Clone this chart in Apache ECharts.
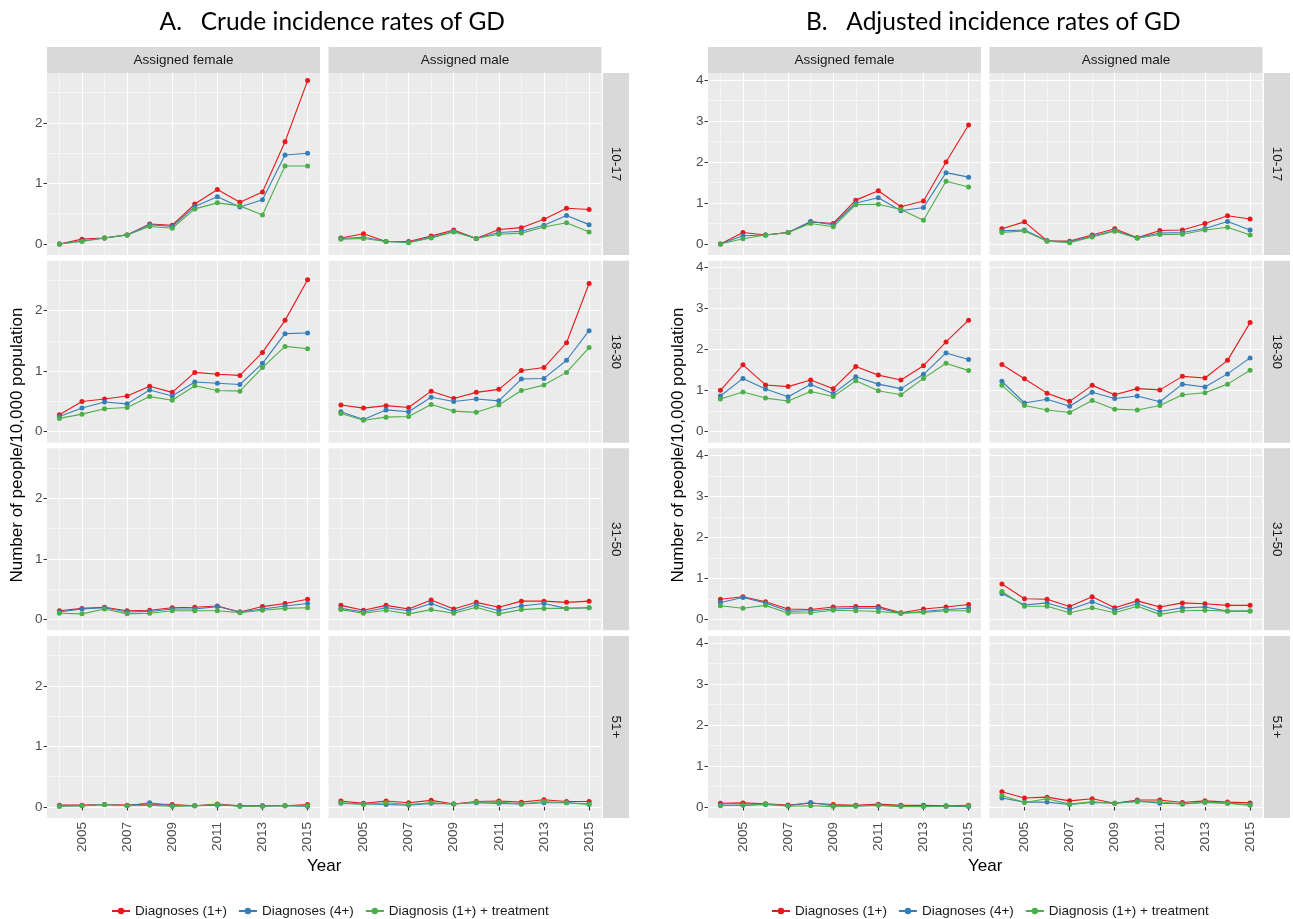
<!DOCTYPE html>
<html><head><meta charset="utf-8">
<script src="https://cdn.jsdelivr.net/npm/echarts@6/dist/echarts.min.js"></script>
<style>html,body{margin:0;padding:0;background:#fff}#c{width:1293px;height:919px}</style>
</head><body><div id="c"></div>
<script>
// ---------------- data ----------------
const years = [2004, 2005, 2006, 2007, 2008, 2009, 2010, 2011, 2012, 2013, 2014, 2015];
const xTickYears = [2005, 2007, 2009, 2011, 2013, 2015];
const xMinorYears = [2004, 2006, 2008, 2010, 2012, 2014];
const seriesNames = ['Diagnoses (1+)', 'Diagnoses (4+)', 'Diagnosis (1+) + treatment'];
const sexLabels = ['Assigned female', 'Assigned male'];
const ageLabels = ['10-17', '18-30', '31-50', '51+'];
const crudeYTicks = [0, 1, 2];
const crudeYMinor = [0.5, 1.5, 2.5];
const adjYTicks = [0, 1, 2, 3, 4];
const adjYMinor = [0.5, 1.5, 2.5, 3.5];

// A. Crude incidence rates
const c_f_1017_d1 = [0, 0.08, 0.10, 0.15, 0.33, 0.31, 0.66, 0.90, 0.69, 0.86, 1.69, 2.70];
const c_f_1017_d4 = [0, 0.05, 0.10, 0.15, 0.32, 0.29, 0.62, 0.78, 0.61, 0.73, 1.47, 1.50];
const c_f_1017_tx = [0, 0.04, 0.10, 0.15, 0.29, 0.26, 0.58, 0.68, 0.63, 0.48, 1.29, 1.29];
const c_m_1017_d1 = [0.10, 0.17, 0.04, 0.04, 0.13, 0.23, 0.09, 0.24, 0.27, 0.41, 0.59, 0.57];
const c_m_1017_d4 = [0.09, 0.11, 0.04, 0.03, 0.11, 0.21, 0.09, 0.19, 0.21, 0.31, 0.47, 0.32];
const c_m_1017_tx = [0.08, 0.09, 0.04, 0.02, 0.10, 0.20, 0.09, 0.16, 0.18, 0.28, 0.35, 0.20];

const c_f_1830_d1 = [0.28, 0.50, 0.54, 0.59, 0.75, 0.65, 0.98, 0.95, 0.93, 1.31, 1.84, 2.51];
const c_f_1830_d4 = [0.25, 0.39, 0.49, 0.46, 0.69, 0.59, 0.82, 0.80, 0.78, 1.13, 1.62, 1.63];
const c_f_1830_tx = [0.22, 0.29, 0.38, 0.40, 0.58, 0.52, 0.76, 0.68, 0.67, 1.06, 1.41, 1.37];
const c_m_1830_d1 = [0.44, 0.39, 0.43, 0.40, 0.67, 0.55, 0.65, 0.70, 1.01, 1.06, 1.47, 2.45];
const c_m_1830_d4 = [0.33, 0.20, 0.36, 0.33, 0.57, 0.50, 0.54, 0.51, 0.87, 0.88, 1.18, 1.67];
const c_m_1830_tx = [0.30, 0.19, 0.24, 0.25, 0.45, 0.34, 0.32, 0.44, 0.68, 0.77, 0.98, 1.39];

const c_f_3150_d1 = [0.14, 0.18, 0.20, 0.14, 0.15, 0.19, 0.20, 0.22, 0.12, 0.21, 0.26, 0.33];
const c_f_3150_d4 = [0.12, 0.17, 0.19, 0.12, 0.13, 0.17, 0.17, 0.21, 0.12, 0.17, 0.22, 0.26];
const c_f_3150_tx = [0.10, 0.09, 0.17, 0.09, 0.10, 0.14, 0.14, 0.14, 0.11, 0.15, 0.18, 0.19];
const c_m_3150_d1 = [0.23, 0.15, 0.23, 0.17, 0.32, 0.17, 0.28, 0.20, 0.30, 0.30, 0.28, 0.30];
const c_m_3150_d4 = [0.18, 0.12, 0.19, 0.14, 0.26, 0.13, 0.24, 0.14, 0.22, 0.26, 0.18, 0.19];
const c_m_3150_tx = [0.16, 0.10, 0.15, 0.09, 0.16, 0.10, 0.20, 0.09, 0.16, 0.18, 0.18, 0.19];

const c_f_51_d1 = [0.03, 0.03, 0.04, 0.03, 0.05, 0.04, 0.02, 0.05, 0.02, 0.02, 0.02, 0.04];
const c_f_51_d4 = [0.02, 0.02, 0.04, 0.02, 0.07, 0.02, 0.02, 0.03, 0.02, 0.02, 0.02, 0.01];
const c_f_51_tx = [0.01, 0.02, 0.04, 0.02, 0.03, 0.01, 0.02, 0.04, 0.01, 0.01, 0.02, 0.02];
const c_m_51_d1 = [0.10, 0.06, 0.10, 0.07, 0.11, 0.05, 0.09, 0.10, 0.08, 0.12, 0.09, 0.09];
const c_m_51_d4 = [0.06, 0.05, 0.04, 0.03, 0.06, 0.05, 0.07, 0.06, 0.05, 0.07, 0.07, 0.05];
const c_m_51_tx = [0.07, 0.04, 0.07, 0.04, 0.07, 0.05, 0.08, 0.08, 0.05, 0.09, 0.07, 0.04];

// B. Adjusted incidence rates
const a_f_1017_d1 = [0, 0.28, 0.22, 0.28, 0.54, 0.50, 1.07, 1.30, 0.91, 1.05, 2.00, 2.90];
const a_f_1017_d4 = [0, 0.20, 0.22, 0.28, 0.55, 0.47, 1.00, 1.13, 0.81, 0.89, 1.74, 1.63];
const a_f_1017_tx = [0, 0.13, 0.22, 0.28, 0.50, 0.42, 0.96, 0.97, 0.84, 0.58, 1.53, 1.39];
const a_m_1017_d1 = [0.37, 0.54, 0.08, 0.07, 0.22, 0.37, 0.15, 0.33, 0.34, 0.50, 0.69, 0.61];
const a_m_1017_d4 = [0.32, 0.34, 0.08, 0.05, 0.19, 0.33, 0.15, 0.27, 0.28, 0.38, 0.55, 0.34];
const a_m_1017_tx = [0.28, 0.32, 0.07, 0.03, 0.17, 0.31, 0.14, 0.23, 0.24, 0.34, 0.41, 0.22];

const a_f_1830_d1 = [1.01, 1.63, 1.14, 1.10, 1.26, 1.05, 1.59, 1.38, 1.26, 1.61, 2.19, 2.72];
const a_f_1830_d4 = [0.87, 1.30, 1.04, 0.85, 1.15, 0.93, 1.34, 1.16, 1.05, 1.40, 1.92, 1.76];
const a_f_1830_tx = [0.80, 0.97, 0.82, 0.75, 0.98, 0.86, 1.24, 1.00, 0.90, 1.30, 1.67, 1.49];
const a_m_1830_d1 = [1.64, 1.29, 0.94, 0.74, 1.13, 0.90, 1.05, 1.02, 1.35, 1.31, 1.74, 2.66];
const a_m_1830_d4 = [1.23, 0.70, 0.79, 0.62, 0.96, 0.81, 0.87, 0.73, 1.16, 1.09, 1.41, 1.80];
const a_m_1830_tx = [1.13, 0.64, 0.53, 0.47, 0.76, 0.55, 0.53, 0.64, 0.90, 0.95, 1.16, 1.50];

const a_f_3150_d1 = [0.49, 0.55, 0.43, 0.25, 0.24, 0.30, 0.31, 0.31, 0.16, 0.25, 0.30, 0.36];
const a_f_3150_d4 = [0.41, 0.53, 0.40, 0.20, 0.21, 0.25, 0.27, 0.27, 0.15, 0.19, 0.24, 0.27];
const a_f_3150_tx = [0.33, 0.27, 0.34, 0.15, 0.16, 0.22, 0.21, 0.19, 0.15, 0.17, 0.21, 0.21];
const a_m_3150_d1 = [0.86, 0.50, 0.49, 0.31, 0.55, 0.28, 0.45, 0.30, 0.40, 0.38, 0.34, 0.34];
const a_m_3150_d4 = [0.63, 0.35, 0.40, 0.24, 0.43, 0.22, 0.38, 0.19, 0.28, 0.30, 0.20, 0.20];
const a_m_3150_tx = [0.68, 0.32, 0.32, 0.16, 0.28, 0.16, 0.32, 0.12, 0.21, 0.22, 0.20, 0.20];

const a_f_51_d1 = [0.09, 0.10, 0.08, 0.05, 0.09, 0.06, 0.04, 0.07, 0.04, 0.04, 0.03, 0.04];
const a_f_51_d4 = [0.05, 0.04, 0.06, 0.03, 0.11, 0.03, 0.03, 0.05, 0.03, 0.02, 0.02, 0.01];
const a_f_51_tx = [0.03, 0.05, 0.07, 0.02, 0.03, 0.01, 0.02, 0.04, 0.01, 0.01, 0.02, 0.03];
const a_m_51_d1 = [0.37, 0.22, 0.24, 0.15, 0.20, 0.09, 0.17, 0.17, 0.11, 0.15, 0.12, 0.10];
const a_m_51_d4 = [0.22, 0.12, 0.12, 0.06, 0.11, 0.09, 0.15, 0.09, 0.08, 0.11, 0.09, 0.06];
const a_m_51_tx = [0.28, 0.11, 0.20, 0.07, 0.13, 0.09, 0.13, 0.13, 0.07, 0.12, 0.09, 0.04];

// facet tables: [row][col] -> [d1, d4, tx]
const crudeFacets = [
  [[c_f_1017_d1, c_f_1017_d4, c_f_1017_tx], [c_m_1017_d1, c_m_1017_d4, c_m_1017_tx]],
  [[c_f_1830_d1, c_f_1830_d4, c_f_1830_tx], [c_m_1830_d1, c_m_1830_d4, c_m_1830_tx]],
  [[c_f_3150_d1, c_f_3150_d4, c_f_3150_tx], [c_m_3150_d1, c_m_3150_d4, c_m_3150_tx]],
  [[c_f_51_d1, c_f_51_d4, c_f_51_tx], [c_m_51_d1, c_m_51_d4, c_m_51_tx]]
];
const adjFacets = [
  [[a_f_1017_d1, a_f_1017_d4, a_f_1017_tx], [a_m_1017_d1, a_m_1017_d4, a_m_1017_tx]],
  [[a_f_1830_d1, a_f_1830_d4, a_f_1830_tx], [a_m_1830_d1, a_m_1830_d4, a_m_1830_tx]],
  [[a_f_3150_d1, a_f_3150_d4, a_f_3150_tx], [a_m_3150_d1, a_m_3150_d4, a_m_3150_tx]],
  [[a_f_51_d1, a_f_51_d4, a_f_51_tx], [a_m_51_d1, a_m_51_d4, a_m_51_tx]]
];

// ---------------- layout & style ----------------
const colors = ['#e41a1c', '#377eb8', '#4daf4a'];
const FONT = 'Liberation Sans';
const FS = 13.5;
const colW = 273, colStep = 281.5, rowH = 182, stripH = 26;
const rowTops = [73, 260.7, 448.3, 636];
const panels = [
  { title: 'A.   Crude incidence rates of GD', left0: 47, yMin: -0.182, yMax: 2.826,
    yTicks: crudeYTicks, yMinor: crudeYMinor, facets: crudeFacets, legendLeft: 106 },
  { title: 'B.   Adjusted incidence rates of GD', left0: 708, yMin: -0.268, yMax: 4.17,
    yTicks: adjYTicks, yMinor: adjYMinor, facets: adjFacets, legendLeft: 766 }
];

const grid = [], xAxis = [], yAxis = [], series = [], graphic = [], legend = [];

panels.forEach((P, p) => {
  const panelsLeft = P.left0, panelsRight = P.left0 + colStep + colW;
  const centerX = (panelsLeft + panelsRight) / 2;
  graphic.push({ type: 'text', x: centerX + 8, y: 22, style: { text: P.title, fill: '#000',
    font: '24.5px Lato', textAlign: 'center', textVerticalAlign: 'middle' } });
  // column strips
  sexLabels.forEach((s, c) => {
    const x = P.left0 + c * colStep;
    graphic.push({ type: 'rect', shape: { x: x, y: 47, width: colW, height: stripH }, style: { fill: '#d9d9d9' } });
    graphic.push({ type: 'text', x: x + colW / 2, y: 47 + stripH / 2, style: { text: s, fill: '#1a1a1a',
      font: FS + 'px ' + FONT, textAlign: 'center', textVerticalAlign: 'middle' } });
  });
  // row strips
  ageLabels.forEach((a, r) => {
    const x = panelsRight + 1.5;
    graphic.push({ type: 'rect', shape: { x: x, y: rowTops[r], width: stripH, height: rowH }, style: { fill: '#d9d9d9' } });
    graphic.push({ type: 'text', x: x + stripH / 2, y: rowTops[r] + rowH / 2, rotation: -Math.PI / 2,
      style: { text: a, fill: '#1a1a1a', font: FS + 'px ' + FONT, textAlign: 'center', textVerticalAlign: 'middle' } });
  });
  // axis titles
  graphic.push({ type: 'text', x: P.left0 - 30, y: 445, rotation: Math.PI / 2,
    style: { text: 'Number of people/10,000 population', fill: '#000', font: '17px ' + FONT,
      textAlign: 'center', textVerticalAlign: 'middle' } });
  graphic.push({ type: 'text', x: centerX, y: 866, style: { text: 'Year', fill: '#000', font: '17px ' + FONT,
    textAlign: 'center', textVerticalAlign: 'middle' } });

  legend.push({ data: seriesNames, left: P.legendLeft, top: 899, itemWidth: 18, itemHeight: 8, itemGap: 11,
    textStyle: { fontFamily: FONT, fontSize: FS, color: '#1a1a1a' } });

  for (let r = 0; r < 4; r++) {
    for (let c = 0; c < 2; c++) {
      const gi = grid.length;
      grid.push({ left: P.left0 + c * colStep, top: rowTops[r], width: colW, height: rowH,
        show: true, backgroundColor: '#ebebeb', borderWidth: 0, containLabel: false, outerBoundsMode: 'none' });
      xAxis.push({ gridIndex: gi, type: 'value', min: 2003.45, max: 2015.55, position: 'bottom',
        axisLine: { show: false },
        axisTick: { show: r === 3, customValues: xTickYears, length: 3.5, lineStyle: { color: '#333', width: 1 } },
        axisLabel: { show: r === 3, customValues: xTickYears, rotate: 90, fontSize: FS, color: '#4d4d4d',
          margin: 4, fontFamily: FONT, formatter: v => String(v) },
        splitLine: { show: true, lineStyle: { color: '#ffffff', width: 1.1 } } });
      xAxis.push({ gridIndex: gi, type: 'value', min: 2003.45, max: 2015.55, position: 'top',
        axisLine: { show: false }, axisTick: { show: false, customValues: xMinorYears },
        axisLabel: { show: false, customValues: xMinorYears },
        splitLine: { show: true, lineStyle: { color: '#ffffff', width: 0.5 } } });
      yAxis.push({ gridIndex: gi, type: 'value', min: P.yMin, max: P.yMax, position: 'left',
        axisLine: { show: false },
        axisTick: { show: c === 0, customValues: P.yTicks, length: 3.5, lineStyle: { color: '#333', width: 1 } },
        axisLabel: { show: c === 0, customValues: P.yTicks, fontSize: FS, color: '#4d4d4d', margin: 4.5,
          fontFamily: FONT, formatter: v => String(v) },
        splitLine: { show: true, lineStyle: { color: '#ffffff', width: 1.1 } } });
      yAxis.push({ gridIndex: gi, type: 'value', min: P.yMin, max: P.yMax, position: 'right',
        axisLine: { show: false }, axisTick: { show: false, customValues: P.yMinor },
        axisLabel: { show: false, customValues: P.yMinor },
        splitLine: { show: true, lineStyle: { color: '#ffffff', width: 0.5 } } });
      P.facets[r][c].forEach((vals, k) => {
        series.push({ type: 'line', name: seriesNames[k], xAxisIndex: 2 * gi, yAxisIndex: 2 * gi,
          data: years.map((yr, j) => [yr, vals[j]]),
          symbol: 'circle', symbolSize: 5, showSymbol: true,
          lineStyle: { width: 1.1, color: colors[k] }, itemStyle: { color: colors[k] },
          emphasis: { disabled: true }, animation: false, silent: true });
      });
    }
  }
});

const chart = echarts.init(document.getElementById('c'), null, { renderer: 'canvas' });
chart.setOption({
  backgroundColor: '#ffffff',
  animation: false,
  color: colors,
  grid, xAxis, yAxis, series, legend, graphic
});
</script></body></html>
